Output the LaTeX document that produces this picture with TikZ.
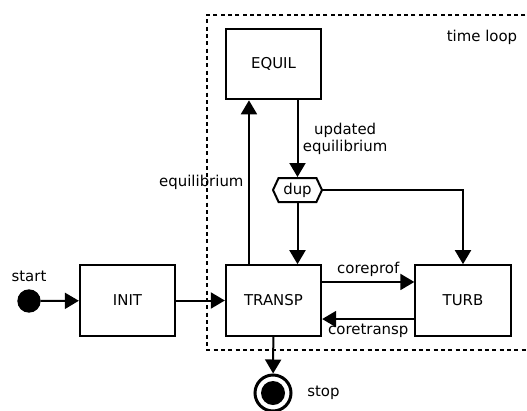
\documentclass[tikz,border=0pt]{standalone}
\usepackage{fontspec}
\setmainfont{DejaVu Sans}
\usetikzlibrary{arrows.meta,shapes.symbols}

\begin{document}
\begin{tikzpicture}[x=0.75pt,y=-0.75pt,>={Triangle[length=10.5pt,width=12pt]},
		line width=1.5pt,font=\fontsize{11.2pt}{13pt}\selectfont,
		block/.style = {draw,minimum width=71.5pt,minimum height=53pt,inner sep=0pt},
		startdot/.style = {draw,fill,circle,minimum size=16pt,inner sep=0pt},
		stopdot/.style = {draw,circle,line width=2.25pt,minimum size=27pt,inner sep=0pt,
			path picture={\fill (path picture bounding box.center) circle (9pt);}},
		dupbox/.style = {draw,signal,signal to=west and east,signal pointer angle=130,
			minimum width=36.75pt,minimum height=18pt,inner sep=0pt}
		]
		\useasboundingbox (0,0) rectangle (527,410);
		%TIME LOOP
		\draw[dash pattern=on 3pt off 2.5pt] (540,15) -| (207,350) -- (540,350);
		\node (@loop) at (482,37) {time loop};
		%BLOCKS
		\node[startdot,label={[label distance=2pt]above:start}] (@start) at (29,301) {};
		\node[block] (@init) at (127.5,300.5) {INIT};
		\node[block] (@transp) at (273.5,300.5) {TRANSP};
		\node[block] (@equil) at (273.5,64) {EQUIL};
		\node[block] (@turb) at (463,300.5) {TURB};
		\node[dupbox] (@dup) at (297.5,190) {dup};
		\node[stopdot,label={[label distance=7pt]right:stop}] (@stop) at (273,393) {};
		%FLOWS
		\draw[->] (@start) -- (@init);
		\draw[->] (@init) -- (@transp);
		\draw[->] ([xshift=-18.4pt]@transp.north) -- ([xshift=-18.4pt]@equil.south) node [midway, left] {equilibrium};
		\draw[->] (@dup.north |- @equil.south) -- (@dup.north) node [midway, right, align=center] {updated\\equilibrium};
		\draw[->] (@dup.south) -- (@dup.south |- @transp.north);
		\draw[->] (@dup.east) -| (@turb.north);
		\draw[->] ([yshift=13.9pt]@transp.east) -- ([yshift=13.9pt]@turb.west) node [midway, above] {coreprof};
		\draw[->] ([yshift=-13.9pt]@turb.west) -- ([yshift=-13.9pt]@transp.east) node [midway, below] {coretransp};
		\draw[->] (@transp) -- (@stop);
	\end{tikzpicture}
\end{document}
